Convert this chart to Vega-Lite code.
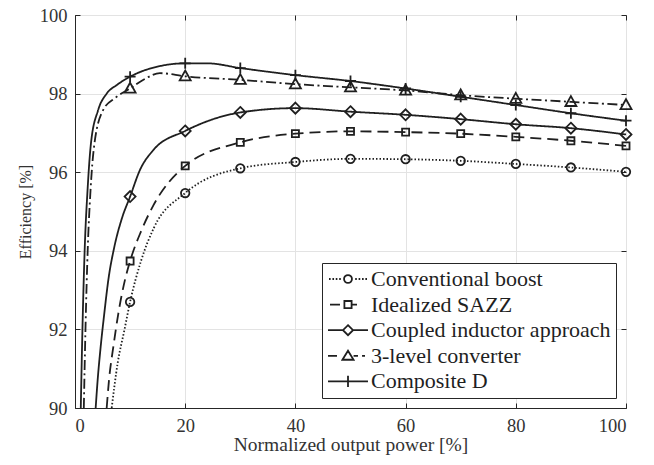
{
  "$schema": "https://vega.github.io/schema/vega-lite/v6.json",
  "width": 551,
  "height": 393,
  "autosize": {"type": "none"},
  "padding": {"left": 75, "top": 15, "right": 28, "bottom": 57},
  "background": "white",
  "config": {
    "view": {"stroke": "#262626", "strokeWidth": 1},
    "font": "Liberation Serif",
    "axis": {
      "labelFont": "Liberation Serif",
      "titleFont": "Liberation Serif",
      "labelColor": "#333333",
      "titleColor": "#333333",
      "titleFontWeight": "normal",
      "domainColor": "#262626",
      "tickColor": "#262626",
      "gridColor": "#e3e3e3",
      "gridWidth": 1
    }
  },
  "datasets": {
    "curves": [
      {"series": "Conventional boost", "x": 6.66, "y": 90.0, "m": 0},
      {"series": "Conventional boost", "x": 7.74, "y": 91.14, "m": 0},
      {"series": "Conventional boost", "x": 8.96, "y": 91.98, "m": 0},
      {"series": "Conventional boost", "x": 10, "y": 92.70, "m": 1},
      {"series": "Conventional boost", "x": 12, "y": 93.75, "m": 0},
      {"series": "Conventional boost", "x": 14.3, "y": 94.58, "m": 0},
      {"series": "Conventional boost", "x": 20, "y": 95.47, "m": 1},
      {"series": "Conventional boost", "x": 30, "y": 96.10, "m": 1},
      {"series": "Conventional boost", "x": 40, "y": 96.26, "m": 1},
      {"series": "Conventional boost", "x": 50, "y": 96.34, "m": 1},
      {"series": "Conventional boost", "x": 60, "y": 96.33, "m": 1},
      {"series": "Conventional boost", "x": 70, "y": 96.29, "m": 1},
      {"series": "Conventional boost", "x": 80, "y": 96.21, "m": 1},
      {"series": "Conventional boost", "x": 90, "y": 96.12, "m": 1},
      {"series": "Conventional boost", "x": 100, "y": 96.01, "m": 1},

      {"series": "Idealized SAZZ", "x": 5.75, "y": 90.0, "m": 0},
      {"series": "Idealized SAZZ", "x": 6.17, "y": 90.71, "m": 0},
      {"series": "Idealized SAZZ", "x": 6.96, "y": 91.56, "m": 0},
      {"series": "Idealized SAZZ", "x": 7.87, "y": 92.41, "m": 0},
      {"series": "Idealized SAZZ", "x": 9.07, "y": 93.26, "m": 0},
      {"series": "Idealized SAZZ", "x": 10, "y": 93.74, "m": 1},
      {"series": "Idealized SAZZ", "x": 12, "y": 94.5, "m": 0},
      {"series": "Idealized SAZZ", "x": 14.2, "y": 95.15, "m": 0},
      {"series": "Idealized SAZZ", "x": 20, "y": 96.16, "m": 1},
      {"series": "Idealized SAZZ", "x": 30, "y": 96.76, "m": 1},
      {"series": "Idealized SAZZ", "x": 40, "y": 96.98, "m": 1},
      {"series": "Idealized SAZZ", "x": 50, "y": 97.04, "m": 1},
      {"series": "Idealized SAZZ", "x": 60, "y": 97.02, "m": 1},
      {"series": "Idealized SAZZ", "x": 70, "y": 96.98, "m": 1},
      {"series": "Idealized SAZZ", "x": 80, "y": 96.90, "m": 1},
      {"series": "Idealized SAZZ", "x": 90, "y": 96.80, "m": 1},
      {"series": "Idealized SAZZ", "x": 100, "y": 96.67, "m": 1},

      {"series": "Coupled inductor approach", "x": 3.75, "y": 90.0, "m": 0},
      {"series": "Coupled inductor approach", "x": 4.11, "y": 90.71, "m": 0},
      {"series": "Coupled inductor approach", "x": 4.66, "y": 91.56, "m": 0},
      {"series": "Coupled inductor approach", "x": 5.32, "y": 92.41, "m": 0},
      {"series": "Coupled inductor approach", "x": 6.05, "y": 93.26, "m": 0},
      {"series": "Coupled inductor approach", "x": 7.14, "y": 94.10, "m": 0},
      {"series": "Coupled inductor approach", "x": 8.5, "y": 94.82, "m": 0},
      {"series": "Coupled inductor approach", "x": 10, "y": 95.38, "m": 1},
      {"series": "Coupled inductor approach", "x": 11.8, "y": 96.06, "m": 0},
      {"series": "Coupled inductor approach", "x": 14.2, "y": 96.56, "m": 0},
      {"series": "Coupled inductor approach", "x": 20, "y": 97.05, "m": 1},
      {"series": "Coupled inductor approach", "x": 30, "y": 97.52, "m": 1},
      {"series": "Coupled inductor approach", "x": 40, "y": 97.63, "m": 1},
      {"series": "Coupled inductor approach", "x": 50, "y": 97.54, "m": 1},
      {"series": "Coupled inductor approach", "x": 60, "y": 97.46, "m": 1},
      {"series": "Coupled inductor approach", "x": 70, "y": 97.35, "m": 1},
      {"series": "Coupled inductor approach", "x": 80, "y": 97.22, "m": 1},
      {"series": "Coupled inductor approach", "x": 90, "y": 97.12, "m": 1},
      {"series": "Coupled inductor approach", "x": 100, "y": 96.96, "m": 1},

      {"series": "3-level converter", "x": 1.6, "y": 90.0, "m": 0},
      {"series": "3-level converter", "x": 1.9, "y": 92.0, "m": 0},
      {"series": "3-level converter", "x": 2.3, "y": 94.0, "m": 0},
      {"series": "3-level converter", "x": 2.8, "y": 95.5, "m": 0},
      {"series": "3-level converter", "x": 3.5, "y": 96.7, "m": 0},
      {"series": "3-level converter", "x": 5.1, "y": 97.58, "m": 0},
      {"series": "3-level converter", "x": 7.3, "y": 97.89, "m": 0},
      {"series": "3-level converter", "x": 10, "y": 98.13, "m": 1},
      {"series": "3-level converter", "x": 12.5, "y": 98.36, "m": 0},
      {"series": "3-level converter", "x": 15.4, "y": 98.52, "m": 0},
      {"series": "3-level converter", "x": 20, "y": 98.44, "m": 1},
      {"series": "3-level converter", "x": 30, "y": 98.35, "m": 1},
      {"series": "3-level converter", "x": 40, "y": 98.24, "m": 1},
      {"series": "3-level converter", "x": 50, "y": 98.16, "m": 1},
      {"series": "3-level converter", "x": 60, "y": 98.08, "m": 1},
      {"series": "3-level converter", "x": 70, "y": 97.96, "m": 1},
      {"series": "3-level converter", "x": 80, "y": 97.87, "m": 1},
      {"series": "3-level converter", "x": 90, "y": 97.79, "m": 1},
      {"series": "3-level converter", "x": 100, "y": 97.71, "m": 1},

      {"series": "Composite D", "x": 1.05, "y": 90.0, "m": 0},
      {"series": "Composite D", "x": 1.35, "y": 92.0, "m": 0},
      {"series": "Composite D", "x": 1.75, "y": 94.0, "m": 0},
      {"series": "Composite D", "x": 2.3, "y": 95.6, "m": 0},
      {"series": "Composite D", "x": 2.9, "y": 96.74, "m": 0},
      {"series": "Composite D", "x": 4.2, "y": 97.58, "m": 0},
      {"series": "Composite D", "x": 5.75, "y": 98.0, "m": 0},
      {"series": "Composite D", "x": 7.6, "y": 98.22, "m": 0},
      {"series": "Composite D", "x": 10, "y": 98.43, "m": 1},
      {"series": "Composite D", "x": 15.4, "y": 98.70, "m": 0},
      {"series": "Composite D", "x": 20, "y": 98.77, "m": 1},
      {"series": "Composite D", "x": 24, "y": 98.77, "m": 0},
      {"series": "Composite D", "x": 30, "y": 98.65, "m": 1},
      {"series": "Composite D", "x": 40, "y": 98.47, "m": 1},
      {"series": "Composite D", "x": 50, "y": 98.32, "m": 1},
      {"series": "Composite D", "x": 60, "y": 98.13, "m": 1},
      {"series": "Composite D", "x": 70, "y": 97.92, "m": 1},
      {"series": "Composite D", "x": 80, "y": 97.71, "m": 1},
      {"series": "Composite D", "x": 90, "y": 97.50, "m": 1},
      {"series": "Composite D", "x": 100, "y": 97.31, "m": 1}
    ]
  },
  "data": {"name": "curves"},
  "resolve": {
    "scale": {"shape": "independent"},
    "axis": {"x": "independent", "y": "independent"}
  },
  "layer": [
    {
      "mark": {"type": "line", "interpolate": "monotone", "clip": true, "strokeWidth": 1.8, "color": "#1f1f1f", "strokeCap": "butt"},
      "encoding": {
        "x": {"field": "x", "type": "quantitative",
          "scale": {"domain": [0, 100], "nice": false},
          "axis": {"values": [0, 20, 40, 60, 80, 100], "title": "Normalized output power [%]",
            "labelFontSize": 18.5, "titleFontSize": 19.5, "tickSize": -5, "labelPadding": 13, "titlePadding": 1, "grid": true}},
        "y": {"field": "y", "type": "quantitative",
          "scale": {"domain": [90, 100], "nice": false},
          "axis": {"values": [90, 92, 94, 96, 98, 100], "title": "Efficiency [%]",
            "labelFontSize": 18.5, "titleFontSize": 16, "tickSize": -5, "labelPadding": 13, "titlePadding": 6, "grid": true}},
        "detail": {"field": "series"},
        "strokeDash": {"field": "series", "type": "nominal", "legend": null,
          "scale": {"domain": ["Conventional boost", "Idealized SAZZ", "Coupled inductor approach", "3-level converter", "Composite D"],
            "range": [[1.5, 2], [11, 6], [1, 0], [10, 3.5, 2, 3.5], [1, 0]]}}
      }
    },
    {
      "transform": [{"filter": "datum.m == 1"}],
      "mark": {"type": "point", "filled": false, "fill": "transparent", "size": 121, "strokeWidth": 1.8, "color": "#1f1f1f", "opacity": 1},
      "encoding": {
        "x": {"field": "x", "type": "quantitative", "axis": null},
        "y": {"field": "y", "type": "quantitative", "axis": null},
        "shape": {"field": "series", "type": "nominal", "legend": null,
          "scale": {"domain": ["Conventional boost", "Idealized SAZZ", "Coupled inductor approach", "3-level converter", "Composite D"],
            "range": [
              "M-0.77,0a0.77,0.77 0 1,0 1.54,0a0.77,0.77 0 1,0 -1.54,0",
              "M-0.64,-0.64H0.64V0.64H-0.64Z",
              "M0,-1L1,0L0,1L-1,0Z",
              "M0,-1.05L1,0.75H-1Z",
              "M-1,0H1M0,-1V1"
            ]}}
      }
    },
    {
      "transform": [{"filter": "datum.m == 1 && datum.x == 50"}],
      "mark": {"type": "point", "filled": false, "opacity": 0, "color": "#1f1f1f"},
      "encoding": {
        "x": {"field": "x", "type": "quantitative",
          "axis": {"orient": "top", "values": [0, 20, 40, 60, 80, 100], "labels": false, "title": null, "grid": false, "domain": false, "tickSize": -5}},
        "y": {"field": "y", "type": "quantitative",
          "axis": {"orient": "right", "values": [90, 92, 94, 96, 98, 100], "labels": false, "title": null, "grid": false, "domain": false, "tickSize": -5}},
        "shape": {"field": "series", "type": "nominal",
          "scale": {"domain": ["Conventional boost", "Idealized SAZZ", "Coupled inductor approach", "3-level converter", "Composite D"],
            "range": [
              "M-2.11,0h0.18M-1.73,0h0.18M-1.36,0h0.18M-0.98,0h0.18M0.8,0h0.18M1.18,0h0.18M1.56,0h0.18M1.93,0h0.18M-0.44,0a0.44,0.44 0 1,0 0.88,0a0.44,0.44 0 1,0 -0.88,0",
              "M-2,0H-0.89M-0.4,-0.4H0.4V0.4H-0.4ZM0.4,0H1",
              "M-2.22,0H-0.56M0.56,0H2.22M0,-0.56L0.56,0L0,0.56L-0.56,0Z",
              "M-2.22,0H-1.22M-0.62,0.44L0,-0.56L0.62,0.44ZM0.62,0H1.11M1.56,0H1.89",
              "M-2.22,0H2.22M0,-0.62V0.62"
            ]},
          "legend": {
            "title": null,
            "orient": "none",
            "legendX": 247,
            "legendY": 248,
            "fillColor": "white",
            "strokeColor": "#262626",
            "padding": 5,
            "symbolSize": 324,
            "symbolOffset": 10,
            "symbolStrokeWidth": 1.8,
            "symbolStrokeColor": "#1f1f1f",
            "symbolFillColor": "transparent",
            "symbolOpacity": 1,
            "labelFont": "Times New Roman",
            "labelFontSize": 22,
            "labelColor": "#1f1f1f",
            "labelOffset": 12,
            "rowPadding": 3.6,
            "labelLimit": 400
          }
        }
      }
    }
  ]
}
